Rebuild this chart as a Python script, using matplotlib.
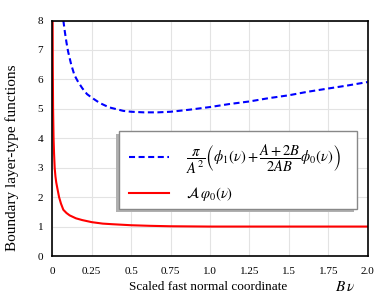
import matplotlib
matplotlib.use("Agg")
import matplotlib.pyplot as plt
from matplotlib.patches import Rectangle

# ---- data ----
nu_blue = [0.07, 0.08, 0.09, 0.10, 0.12, 0.14, 0.16, 0.19, 0.22, 0.25, 0.30, 0.36,
           0.45, 0.50, 0.58, 0.67, 0.75, 0.87, 1.00, 1.12, 1.25, 1.37, 1.50, 1.62,
           1.75, 1.87, 2.00]
blue_vals = [8.0, 7.6, 7.25, 6.95, 6.5, 6.15, 5.95, 5.7, 5.5, 5.38, 5.2, 5.05,
             4.93, 4.90, 4.88, 4.88, 4.90, 4.97, 5.06, 5.16, 5.25, 5.36, 5.46, 5.58,
             5.69, 5.79, 5.91]

nu_red = [0.002, 0.003, 0.005, 0.008, 0.011, 0.015, 0.02, 0.025, 0.032, 0.043, 0.055,
          0.07, 0.09, 0.11, 0.15, 0.19, 0.25, 0.32, 0.38, 0.5, 0.62, 0.75, 1.0, 1.25,
          1.5, 1.75, 2.0]
red_vals = [8.0, 6.5, 5.0, 4.0, 3.5, 3.0, 2.7, 2.5, 2.3, 2.0, 1.78,
            1.57, 1.46, 1.38, 1.28, 1.22, 1.15, 1.10, 1.08, 1.045, 1.025, 1.01, 1.0, 1.0,
            1.0, 1.0, 1.0]

xticks = [0, 0.25, 0.5, 0.75, 1.0, 1.25, 1.5, 1.75, 2.0]
xtick_labels = ['0', '0.25', '0.5', '0.75', '1.0', '1.25', '1.5', '1.75', '2.0']
yticks = [0, 1, 2, 3, 4, 5, 6, 7, 8]
ytick_labels = ['0', '1', '2', '3', '4', '5', '6', '7', '8']

label_blue = r'$\dfrac{\pi}{A^2}\left(\phi_1(\nu)+\dfrac{A+2B}{2AB}\phi_0(\nu)\right)$'
label_red = r'$\mathcal{A}\,\varphi_0(\nu)$'

plt.rcParams['font.family'] = ['Liberation Serif', 'DejaVu Serif']
plt.rcParams['mathtext.fontset'] = 'stix'

W, H = 378.0, 300.0
fig = plt.figure(figsize=(3.78, 3.0), dpi=100)
ax = fig.add_axes([52.3 / W, 1 - 256 / H, (367.7 - 52.3) / W, (256 - 20.5) / H])

ax.plot(nu_blue, blue_vals, color='#0000ff', lw=1.5, ls=(0, (2.9, 1.7)), label=label_blue)
ax.plot(nu_red, red_vals, color='#ff0000', lw=1.5, label=label_red)

ax.set_xlim(0, 2.0)
ax.set_ylim(0, 8)
ax.set_xticks(xticks)
ax.set_xticklabels(xtick_labels)
ax.set_yticks(yticks)
ax.set_yticklabels(ytick_labels)
ax.tick_params(length=0, labelsize=8)
ax.tick_params(axis='x', pad=8)
ax.tick_params(axis='y', pad=6.5)
ax.grid(True, color='#e3e3e3', lw=0.8)
ax.set_axisbelow(True)
for s in ax.spines.values():
    s.set_linewidth(1.2)
    s.set_color('black')

ax.set_xlabel('Scaled fast normal coordinate', fontsize=9.5)
ax.xaxis.set_label_coords(0.494, -0.105)
ax.set_ylabel('Boundary layer-type functions', fontsize=11)
ax.yaxis.set_label_coords(-0.104, 0.418)
fig.text(345.5 / W, 1 - 287 / H, r'$B\,\nu$', fontsize=11, ha='center', va='center')

# legend frame with a down-left shadow
shadow = Rectangle((116 / W, 1 - 212 / H), 238 / W, 78 / H, transform=fig.transFigure,
                   facecolor='#b0b0b0', edgecolor='none', zorder=4, clip_on=False)
frame = Rectangle((119 / W, 1 - 209 / H), 238 / W, 78 / H, transform=fig.transFigure,
                  facecolor='white', edgecolor='#888888', lw=1.0, zorder=4.5, clip_on=False)
ax.add_artist(shadow)
ax.add_artist(frame)

leg = ax.legend(loc='upper left', bbox_to_anchor=(129 / W, 1 - 142.7 / H),
                bbox_transform=fig.transFigure, fontsize=10.5, handlelength=2.75,
                handletextpad=1.15, borderpad=0, labelspacing=0.62,
                borderaxespad=0, frameon=False)
leg.set_zorder(5)

fig.savefig('out.png', dpi=100)
